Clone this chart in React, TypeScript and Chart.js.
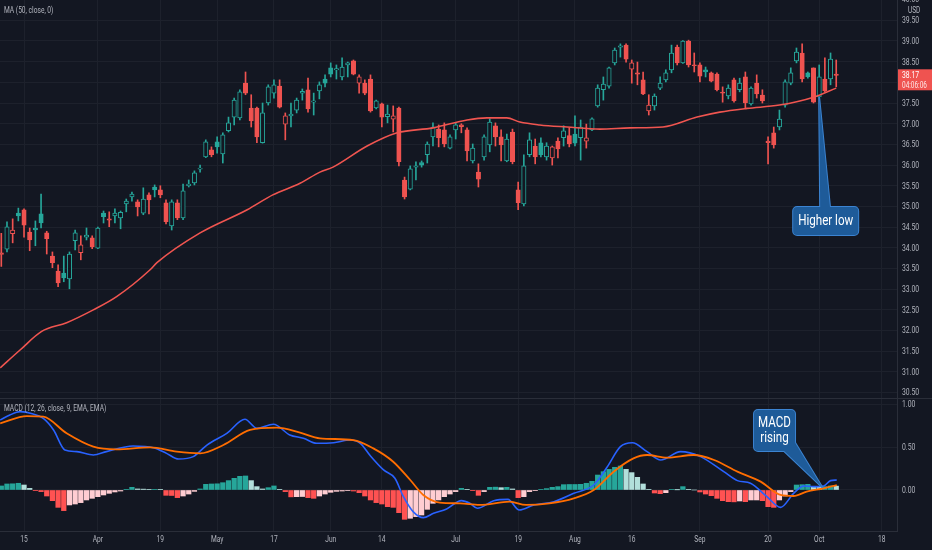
import React, { useEffect, useRef } from "react";
import { Chart, registerables } from "chart.js";

Chart.register(...registerables);

// ---------- DATA ----------
const tickIdx = [4, 17, 28, 38, 48, 58, 67, 80, 91, 101, 111, 123, 135, 144, 155];
const tickLabels = ["15", "Apr", "19", "May", "17", "Jun", "14", "Jul", "19", "Aug", "16", "Sep", "20", "Oct", "18"];

const opens = [
  33.88, 33.97, 34.34, 34.84, 34.92, 34.38, 34.48, 34.82, 34.36, 33.8, 33.44, 33.39, 33.25, 34.17, 33.88, 34.26, 34.24, 33.99, 34.84, 34.7,
  34.77, 34.72, 35.06, 35.23, 35.11, 34.84, 35.28, 35.47, 35.4, 35.09, 34.53, 35.09, 34.72, 35.5, 35.57, 35.9, 36.2, 36.37, 36.56, 36.27,
  36.83, 37.16, 37.14, 37.98, 37.38, 37.38, 36.54, 37.5, 37.74, 37.91, 36.99, 37.19, 37.33, 37.74, 37.82, 37.52, 37.79, 38.08, 38.35, 38.3,
  38.13, 38.42, 38.52, 37.98, 37.98, 38.08, 37.38, 37.48, 37.17, 37.11, 37.38, 35.64, 35.42, 35.95, 36.06, 36.25, 36.68, 36.87, 36.85, 36.41,
  36.85, 36.97, 36.85, 36.1, 35.83, 36.2, 36.49, 36.95, 36.68, 36.1, 36.8, 35.4, 35.06, 36.25, 36.46, 36.54, 36.2, 36.17, 36.58, 36.66,
  36.71, 36.75, 36.66, 36.58, 36.85, 37.43, 37.82, 37.91, 38.47, 38.85, 38.9, 38.32, 38.23, 38.06, 37.31, 37.43, 37.86, 38.06, 38.3, 38.85,
  38.47, 39.0, 38.42, 38.42, 38.3, 38.23, 38.2, 37.76, 37.67, 38.06, 37.82, 38.13, 37.48, 37.98, 37.69, 36.58, 36.78, 36.92, 37.45, 37.98,
  38.52, 38.71, 38.23, 38.35, 37.65, 38.08, 38.08, 38.2,
];
const highs = [
  34.35, 34.63, 34.7, 34.96, 34.94, 34.48, 34.65, 35.3, 34.4, 33.9, 33.59, 33.8, 33.9, 34.43, 34.29, 34.48, 34.29, 34.5, 34.89, 34.87,
  34.94, 34.89, 35.18, 35.35, 35.16, 35.45, 35.33, 35.52, 35.5, 35.16, 35.16, 35.16, 35.54, 35.64, 35.86, 36.0, 36.61, 36.44, 36.68, 36.78,
  37.16, 37.62, 37.82, 38.25, 37.7, 37.4, 37.5, 37.94, 38.06, 38.06, 37.26, 37.5, 37.62, 37.84, 38.1, 37.74, 38.01, 38.18, 38.47, 38.42,
  38.59, 38.49, 38.54, 38.18, 38.06, 38.18, 37.57, 37.5, 37.45, 37.43, 37.4, 35.71, 35.98, 36.08, 36.1, 36.56, 37.02, 36.97, 37.02, 36.73,
  37.02, 37.0, 36.9, 36.51, 36.03, 36.73, 37.12, 37.02, 36.85, 36.75, 36.87, 35.59, 36.25, 36.78, 36.63, 36.66, 36.54, 36.46, 36.66, 36.95,
  36.9, 37.19, 37.09, 36.99, 37.14, 37.94, 38.13, 38.37, 38.83, 38.93, 38.93, 38.54, 38.49, 38.25, 37.7, 37.72, 38.13, 38.3, 38.9, 38.9,
  39.01, 39.02, 38.71, 38.47, 38.37, 38.25, 38.23, 37.89, 37.94, 38.1, 38.1, 38.25, 37.89, 38.18, 37.82, 36.68, 36.92, 37.33, 38.06, 38.35,
  38.83, 38.93, 38.25, 38.35, 38.42, 38.59, 38.71, 38.54,
];
const lows = [
  33.55, 33.9, 34.12, 34.65, 34.26, 33.93, 34.05, 34.48, 33.85, 33.52, 33.06, 33.18, 33.01, 33.95, 33.71, 34.19, 33.98, 33.98, 34.6, 34.51,
  34.6, 34.46, 34.87, 35.13, 34.77, 34.8, 34.82, 35.23, 35.21, 34.58, 34.43, 34.68, 34.68, 35.47, 35.52, 35.83, 36.18, 36.2, 36.29, 36.05,
  36.8, 36.97, 37.09, 37.7, 36.92, 36.54, 36.53, 37.45, 37.62, 37.38, 36.61, 36.92, 37.26, 37.57, 37.28, 37.21, 37.6, 37.89, 38.13, 38.08,
  38.06, 38.13, 38.18, 37.74, 37.7, 37.28, 37.36, 36.92, 37.02, 36.8, 35.98, 35.18, 35.4, 35.64, 35.95, 36.05, 36.46, 36.44, 36.44, 36.39,
  36.63, 36.78, 36.1, 36.05, 35.47, 36.12, 36.32, 36.46, 36.1, 36.08, 36.03, 34.92, 35.01, 36.2, 36.03, 36.2, 36.12, 36.0, 36.17, 36.46,
  36.44, 36.46, 36.12, 36.41, 36.83, 37.4, 37.57, 37.86, 38.42, 38.61, 38.49, 37.98, 37.94, 37.7, 37.21, 37.33, 37.82, 38.01, 38.23, 38.42,
  38.46, 38.37, 38.25, 38.01, 38.13, 38.01, 37.79, 37.52, 37.6, 37.52, 37.77, 37.38, 37.45, 37.62, 37.5, 36.03, 36.41, 36.85, 37.4, 37.94,
  38.47, 38.01, 38.1, 37.5, 37.62, 37.77, 37.94, 37.89,
];
const closes = [
  33.84, 34.51, 34.43, 34.77, 34.55, 34.19, 34.43, 34.6, 34.22, 33.64, 33.15, 33.27, 33.85, 34.36, 34.07, 34.31, 34.02, 34.48, 34.75, 34.67,
  34.84, 34.86, 35.13, 35.3, 34.99, 35.18, 35.16, 35.4, 35.28, 34.63, 35.11, 34.72, 35.38, 35.54, 35.81, 35.93, 36.56, 36.25, 36.44, 36.73,
  37.02, 37.57, 37.77, 37.74, 37.07, 36.68, 37.26, 37.89, 37.94, 37.4, 37.19, 37.23, 37.57, 37.78, 37.36, 37.55, 37.94, 37.98, 38.2, 38.33,
  38.37, 38.47, 38.2, 38.13, 37.74, 37.31, 37.55, 37.16, 37.23, 37.19, 36.08, 35.23, 35.91, 35.98, 36.0, 36.51, 36.92, 36.66, 36.51, 36.68,
  36.97, 36.93, 36.34, 36.41, 35.66, 36.68, 37.04, 36.68, 36.49, 36.63, 36.08, 35.09, 35.98, 36.61, 36.2, 36.25, 36.46, 36.44, 36.39, 36.83,
  36.51, 36.53, 36.92, 36.66, 37.12, 37.86, 37.96, 38.35, 38.78, 38.88, 38.56, 38.47, 38.2, 37.72, 37.45, 37.67, 37.98, 38.23, 38.71, 38.47,
  39.0, 38.42, 38.4, 38.15, 38.25, 38.03, 37.82, 37.74, 37.86, 37.55, 37.98, 37.5, 37.86, 37.72, 37.55, 36.54, 36.49, 37.11, 38.01, 38.23,
  38.73, 38.08, 38.13, 37.52, 38.13, 37.79, 38.56, 38.17,
];

// MA(50) read at positions along the curve (bar index, price)
const maIdx = [-0.2, 3.3, 7.1, 11.5, 16.2, 20.3, 26.2, 27.4, 35, 43.3, 47.8, 52.6, 56.1, 58.4, 64.4, 69.7, 76, 82, 85.5, 89, 91.3, 94.8, 99.6, 105.4, 110.7, 116.5, 122.5, 126.5, 131.3, 137, 143, 147];
const maVal = [31.1, 31.53, 31.98, 32.19, 32.5, 32.82, 33.47, 33.64, 34.36, 34.92, 35.28, 35.56, 35.83, 35.95, 36.46, 36.78, 36.9, 37.09, 37.14, 37.14, 37.04, 36.97, 36.92, 36.87, 36.9, 36.92, 37.16, 37.28, 37.37, 37.45, 37.64, 37.86];

// MACD histogram per bar
const histVals = [
  0.047, 0.07, 0.072, 0.078, 0.058, 0.019, -0.008, -0.019, -0.07, -0.124, -0.202, -0.24, -0.174, -0.163, -0.147, -0.116, -0.097, -0.078, -0.058, -0.039,
  -0.023, -0.012, 0.004, 0.031, 0.012, 0.01, 0.004, 0.008, 0.004, -0.062, -0.064, -0.089, -0.07, -0.047, -0.016, 0.012, 0.066, 0.07, 0.072, 0.085,
  0.109, 0.136, 0.159, 0.163, 0.109, 0.039, 0.012, 0.027, 0.047, 0.008, -0.019, -0.08, -0.078, -0.076, -0.089, -0.097, -0.07, -0.047, -0.027, -0.016,
  -0.012, -0.004, -0.012, -0.031, -0.07, -0.116, -0.147, -0.163, -0.194, -0.202, -0.264, -0.341, -0.329, -0.31, -0.291, -0.225, -0.155, -0.116, -0.078, -0.047,
  -0.019, 0.019, 0.008, -0.008, -0.062, -0.019, 0.031, 0.033, 0.027, 0.031, 0.012, -0.089, -0.078, -0.019, -0.008, 0.004, 0.016, 0.031, 0.039, 0.062,
  0.064, 0.064, 0.066, 0.078, 0.101, 0.174, 0.213, 0.24, 0.264, 0.279, 0.24, 0.202, 0.147, 0.07, 0.008, -0.035, -0.043, -0.031, 0.004, 0.002,
  0.039, 0.008, 0.0, -0.023, -0.047, -0.066, -0.097, -0.124, -0.136, -0.138, -0.128, -0.136, -0.116, -0.116, -0.124, -0.194, -0.202, -0.116, -0.07, -0.019,
  0.058, 0.062, 0.066, 0.039, 0.031, 0.039, 0.047, 0.045,
];

// MACD line
const macdIdx = [-0.2, 1.5, 3.3, 5.6, 7.4, 9.2, 11.2, 13.3, 16.2, 18.5, 23.2, 26.8, 29.1, 31.2, 33.8, 36.2, 39.7, 42.9, 45, 47.9, 50.8, 53.2, 55.5, 58.5, 61.4, 63.2, 65, 67.3, 69.3, 70.8, 72.5, 74.3, 76.1, 78.4, 81, 82.5, 83.8, 86.7, 89.2, 91.2, 93.8, 97.3, 100.8, 104.3, 106.7, 109, 111.1, 113.7, 116.1, 119.6, 123.1, 127.2, 129.6, 131.9, 134.8, 137.2, 139.5, 141.3, 143, 144.8, 146, 147.1];
const macdVal = [0.814, 0.872, 0.911, 0.884, 0.833, 0.698, 0.465, 0.446, 0.407, 0.446, 0.512, 0.492, 0.426, 0.36, 0.388, 0.523, 0.659, 0.822, 0.717, 0.764, 0.64, 0.601, 0.543, 0.55, 0.581, 0.543, 0.395, 0.233, 0.136, -0.078, -0.252, -0.322, -0.271, -0.221, -0.124, -0.155, -0.213, -0.124, -0.109, -0.233, -0.174, -0.136, -0.039, 0.058, 0.271, 0.504, 0.55, 0.446, 0.349, 0.446, 0.388, 0.213, 0.109, 0.078, -0.078, -0.202, -0.039, 0.047, 0.039, 0.047, 0.109, 0.116];

// Signal line
const signalIdx = [-0.2, 4.5, 7.4, 11.5, 16.2, 20.3, 26.2, 30.9, 35, 39.1, 43.8, 48.5, 52.6, 56.1, 62, 65.5, 69, 72, 74.3, 77.2, 80.8, 84.2, 89.5, 92.4, 96.5, 100.8, 104.3, 107.8, 111.3, 113.7, 117.2, 121.9, 125.5, 129.6, 133.7, 137.2, 139.5, 141.8, 144.8, 147.1];
const signalVal = [0.775, 0.86, 0.853, 0.659, 0.504, 0.473, 0.496, 0.446, 0.426, 0.523, 0.698, 0.725, 0.667, 0.601, 0.581, 0.484, 0.329, 0.116, -0.058, -0.147, -0.155, -0.174, -0.136, -0.174, -0.155, -0.097, 0.0, 0.213, 0.368, 0.407, 0.376, 0.407, 0.349, 0.213, 0.097, -0.058, -0.07, -0.019, 0.019, 0.058];

const maLegend = "MA (50, close, 0)";
const macdLegend = "MACD (12, 26, close, 9, EMA, EMA)";
const currency = "USD";
const countdown = "04:06:06";
const callout1 = { text: ["Higher low"], idx: 144, value: 37.62 };
const callout2 = { text: ["MACD", "rising"], idx: 144.5, value: 0.035 };

// ---------- STYLE ----------
const BG = "#131722";
const GRID = "#1d212c";
const BORDER = "#2a2e39";
const TXT = "#b2b5be";
const GREEN = "#26a69a";
const RED = "#ef5350";
const FONT = "Roboto, 'Noto Sans', sans-serif";
const X_MIN = -0.23;
const X_MAX = 157.7;
const SQ = 0.72; // horizontal squeeze of the reference's lettering

Chart.defaults.font.family = FONT;
Chart.defaults.color = TXT;

function sText(
  ctx: CanvasRenderingContext2D,
  text: string,
  x: number,
  y: number,
  size: number,
  color: string,
  align: CanvasTextAlign = "left",
  sx: number = SQ
) {
  ctx.save();
  ctx.font = `${size}px ${FONT}`;
  ctx.fillStyle = color;
  ctx.textAlign = align;
  ctx.textBaseline = "middle";
  ctx.translate(x, y);
  ctx.scale(sx, 1);
  ctx.fillText(text, 0, 0);
  ctx.restore();
}

function xScaleCfg(showLabels: boolean) {
  return {
    type: "linear",
    min: X_MIN,
    max: X_MAX,
    offset: false,
    grid: { color: GRID, drawTicks: false, offset: false },
    border: { display: showLabels, color: BORDER },
    ticks: { display: false, autoSkip: false, maxRotation: 0 },
    afterBuildTicks: (s: any) => {
      s.ticks = tickIdx.map((v) => ({ value: v }));
    },
    afterFit: (s: any) => {
      s.height = showLabels ? 19 : 0;
      s.paddingLeft = 0;
      s.paddingRight = 0;
    },
  };
}

function yScaleCfg(min: number, max: number) {
  return {
    position: "right",
    min,
    max,
    grid: { color: GRID, drawTicks: false },
    border: { display: true, color: BORDER },
    ticks: { display: false, stepSize: 0.5, includeBounds: false },
    afterFit: (s: any) => {
      s.width = 35;
      s.paddingTop = 0;
      s.paddingBottom = 0;
    },
  };
}

function drawYLabels(chart: any) {
  const { ctx, chartArea, scales } = chart;
  const ys = scales.y;
  const vals = ys.ticks.map((t: any) => t.value);
  const above = vals[vals.length - 1] + 0.5;
  if (ys.getPixelForValue(above) > -6) vals.push(above);
  vals.forEach((v: number) => {
    sText(ctx, Number(v).toFixed(2), chartArea.right + 5, ys.getPixelForValue(v) + 0.5, 9.5, TXT);
  });
}

function roundRectPath(ctx: CanvasRenderingContext2D, x: number, y: number, w: number, h: number, r: number) {
  ctx.beginPath();
  ctx.moveTo(x + r, y);
  ctx.lineTo(x + w - r, y);
  ctx.arcTo(x + w, y, x + w, y + r, r);
  ctx.lineTo(x + w, y + h - r);
  ctx.arcTo(x + w, y + h, x + w - r, y + h, r);
  ctx.lineTo(x + r, y + h);
  ctx.arcTo(x, y + h, x, y + h - r, r);
  ctx.lineTo(x, y + r);
  ctx.arcTo(x, y, x + r, y, r);
  ctx.closePath();
}

function drawCallout(
  ctx: CanvasRenderingContext2D,
  box: { x: number; y: number; w: number; h: number },
  tri: number[][],
  lines: string[],
  lineYs: number[]
) {
  const fill = "#1e5b99";
  const stroke = "#3c84d2";
  ctx.save();
  ctx.lineJoin = "round";
  ctx.lineWidth = 2;
  ctx.strokeStyle = stroke;
  roundRectPath(ctx, box.x, box.y, box.w, box.h, 4);
  ctx.stroke();
  ctx.beginPath();
  ctx.moveTo(tri[0][0], tri[0][1]);
  ctx.lineTo(tri[1][0], tri[1][1]);
  ctx.lineTo(tri[2][0], tri[2][1]);
  ctx.closePath();
  ctx.stroke();
  ctx.fillStyle = fill;
  ctx.fill();
  roundRectPath(ctx, box.x, box.y, box.w, box.h, 4);
  ctx.fill();
  ctx.restore();
  lines.forEach((t, k) => sText(ctx, t, box.x + box.w / 2, lineYs[k], 14.5, "#ffffff", "center", 0.8));
}

const topOverlay = {
  id: "topOverlay",
  afterDraw(chart: any) {
    const { ctx, chartArea, scales } = chart;
    const xs = scales.x;
    const ys = scales.y;
    drawYLabels(chart);
    sText(ctx, maLegend, 4, 11, 9.5, TXT, "left", 0.7);
    sText(ctx, currency, chartArea.right + 11, 11, 9, TXT);
    // last price label
    const last = closes[closes.length - 1];
    const py = ys.getPixelForValue(last);
    ctx.save();
    ctx.fillStyle = RED;
    ctx.fillRect(chartArea.right + 1, py - 6, 35, 21);
    ctx.restore();
    sText(ctx, last.toFixed(2), chartArea.right + 5, py, 9.5, "#ffffff");
    sText(ctx, countdown, chartArea.right + 5, py + 10, 9.5, "rgba(255,255,255,0.85)", "left", 0.68);
    // callout
    const tx = xs.getPixelForValue(callout1.idx);
    const ty = ys.getPixelForValue(callout1.value);
    const box = { x: tx - 26, y: ty + 109, w: 65, h: 28 };
    drawCallout(
      ctx,
      box,
      [
        [tx, ty],
        [tx + 1, box.y + 2],
        [tx + 11, box.y + 2],
      ],
      callout1.text,
      [box.y + box.h / 2 + 0.5]
    );
  },
};

const bottomOverlay = {
  id: "bottomOverlay",
  afterDraw(chart: any) {
    const { ctx, scales, width, chartArea } = chart;
    const xs = scales.x;
    const ys = scales.y;
    ctx.save();
    ctx.strokeStyle = BORDER;
    ctx.lineWidth = 1;
    ctx.beginPath();
    ctx.moveTo(0, 0.5);
    ctx.lineTo(width, 0.5);
    ctx.stroke();
    ctx.restore();
    drawYLabels(chart);
    tickIdx.forEach((v, i) => {
      sText(ctx, tickLabels[i], xs.getPixelForValue(v), chartArea.bottom + 9, 9.5, TXT, "center", 0.7);
    });
    sText(ctx, macdLegend, 4, 11, 9.5, TXT, "left", 0.7);
    const tx = xs.getPixelForValue(callout2.idx);
    const ty = ys.getPixelForValue(callout2.value);
    const box = { x: tx - 68, y: ty - 77, w: 41, h: 41 };
    drawCallout(
      ctx,
      box,
      [
        [tx, ty],
        [box.x + box.w - 1, box.y + box.h - 10],
        [box.x + box.w - 12, box.y + box.h - 1],
      ],
      callout2.text,
      [box.y + 13, box.y + 28]
    );
  },
};

export default function App() {
  const topRef = useRef<HTMLCanvasElement | null>(null);
  const botRef = useRef<HTMLCanvasElement | null>(null);

  useEffect(() => {
    document.body.style.margin = "0";
    document.body.style.background = BG;

    const idx = closes.map((_, i) => i);
    const colors = closes.map((c, i) => (c >= (i === 0 ? opens[0] : closes[i - 1]) ? GREEN : RED));
    const hollow = closes.map((c, i) => c > opens[i]);

    const bodyData = idx.map((i) => ({ x: i, y: [opens[i], closes[i]] }));
    const lowWick = idx.map((i) => ({ x: i, y: [lows[i], Math.min(opens[i], closes[i])] }));
    const highWick = idx.map((i) => ({ x: i, y: [Math.max(opens[i], closes[i]), highs[i]] }));

    const top = new Chart(topRef.current as HTMLCanvasElement, {
      type: "bar",
      data: {
        datasets: [
          {
            type: "line",
            data: maIdx.map((x, k) => ({ x, y: maVal[k] })),
            borderColor: "#f05550",
            borderWidth: 1.6,
            pointRadius: 0,
            cubicInterpolationMode: "monotone",
            order: 0,
          } as any,
          {
            data: lowWick,
            backgroundColor: colors,
            borderWidth: 0,
            barThickness: 1,
            grouped: false,
            order: 2,
          } as any,
          {
            data: highWick,
            backgroundColor: colors,
            borderWidth: 0,
            barThickness: 1,
            grouped: false,
            order: 2,
          } as any,
          {
            data: bodyData,
            backgroundColor: colors.map((c, i) => (hollow[i] ? BG : c)),
            borderColor: colors,
            borderWidth: 1,
            borderSkipped: false,
            barThickness: 4.4,
            minBarLength: 1,
            grouped: false,
            order: 1,
          } as any,
        ],
      },
      options: {
        animation: false,
        responsive: true,
        maintainAspectRatio: false,
        events: [],
        layout: { padding: 0 },
        plugins: { legend: { display: false }, tooltip: { enabled: false } },
        scales: {
          x: xScaleCfg(false) as any,
          y: yScaleCfg(30.37, 39.99) as any,
        },
      },
      plugins: [topOverlay],
    });

    const histColors = histVals.map((v, i) => {
      const p = i === 0 ? v : histVals[i - 1];
      if (v >= 0) return v >= p ? "#26a69a" : "#b2dfdb";
      return v < p ? "#ff5252" : "#ffcdd2";
    });

    const bot = new Chart(botRef.current as HTMLCanvasElement, {
      type: "bar",
      data: {
        datasets: [
          {
            data: histVals.map((v, i) => ({ x: i, y: v })),
            backgroundColor: histColors,
            borderWidth: 0,
            barThickness: 4.6,
            grouped: false,
            order: 2,
          } as any,
          {
            type: "line",
            data: macdIdx.map((x, k) => ({ x, y: macdVal[k] })),
            borderColor: "#2962ff",
            borderWidth: 1.6,
            pointRadius: 0,
            cubicInterpolationMode: "monotone",
            order: 1,
          } as any,
          {
            type: "line",
            data: signalIdx.map((x, k) => ({ x, y: signalVal[k] })),
            borderColor: "#ff6d00",
            borderWidth: 1.8,
            pointRadius: 0,
            cubicInterpolationMode: "monotone",
            order: 0,
          } as any,
        ],
      },
      options: {
        animation: false,
        responsive: true,
        maintainAspectRatio: false,
        events: [],
        layout: { padding: 0 },
        plugins: { legend: { display: false }, tooltip: { enabled: false } },
        scales: {
          x: xScaleCfg(true) as any,
          y: yScaleCfg(-0.477, 1.07) as any,
        },
      },
      plugins: [bottomOverlay],
    });

    return () => {
      top.destroy();
      bot.destroy();
    };
  }, []);

  return (
    <div style={{ position: "absolute", left: 0, top: 0, width: 932, height: 550, background: BG, overflow: "hidden" }}>
      <div style={{ position: "relative", width: 932, height: 398 }}>
        <canvas ref={topRef} />
      </div>
      <div style={{ position: "relative", width: 932, height: 152 }}>
        <canvas ref={botRef} />
      </div>
    </div>
  );
}
